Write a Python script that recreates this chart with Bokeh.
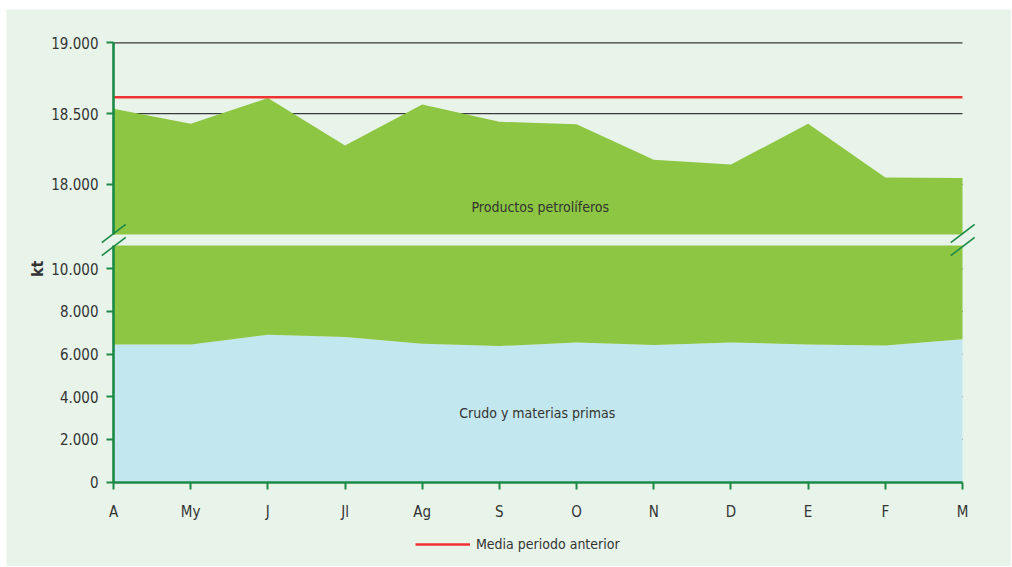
import math
import numpy as np
from bokeh.plotting import figure
from bokeh.models import (Range1d, LinearAxis, FixedTicker, Label, Legend,
                          LegendItem, Arrow)
from bokeh.embed import file_html
from bokeh.resources import INLINE

# ---------------- data (kt) ----------------
months = ["A", "My", "J", "Jl", "Ag", "S", "O", "N", "D", "E", "F", "M"]
crudo_materias_primas = [6453, 6453, 6907, 6795, 6485, 6373, 6546, 6420, 6546, 6453, 6406, 6701]
productos_petroliferos = [12081, 11975, 11703, 11480, 12080, 12069, 11880, 11754, 11595, 11975, 11643, 11344]
media_periodo_anterior = 18616
upper_ticks = [18000, 18500, 19000]
lower_ticks = [0, 2000, 4000, 6000, 8000, 10000]

# ---------------- styling / layout constants ----------------
FONT = "DejaVu Sans Condensed, Roboto, sans-serif"
BG = "#E8F4EA"
GREEN_AREA = "#8DC642"
BLUE_AREA = "#C2E7EF"
RED = "#EE3333"
AXIS_GREEN = "#1B8A46"
GRID = "#3a3a3a"
TEXT = "#333333"
UPPER_BREAK = 17647   # bottom of the upper (cut) panel
LOWER_BREAK = 11092   # top of the lower panel


def fmt(v):
    return f"{v:,}".replace(",", ".")


x = list(range(len(months)))
crude = np.array(crudo_materias_primas, dtype=float)
total = crude + np.array(productos_petroliferos, dtype=float)

p = figure(width=1005, height=557, output_backend="svg", toolbar_location=None,
           x_range=Range1d(-1.3863, 11.6349), y_range=Range1d(-3963, 22161),
           x_axis_type=None, y_axis_type=None,
           min_border=0, min_border_left=0, min_border_right=0,
           min_border_top=0, min_border_bottom=0,
           background_fill_color=BG, border_fill_color=BG, outline_line_color=None)
p.margin = (9, 0, 0, 6)
p.extra_y_ranges = {"upper": Range1d(15304, 19235)}

# horizontal grid lines (under the areas), spanning the months only
p.segment(x0=x[0], x1=x[-1], y0=upper_ticks, y1=upper_ticks, line_color=GRID,
          line_width=1.2, y_range_name="upper")
p.segment(x0=x[0], x1=x[-1], y0=lower_ticks, y1=lower_ticks, line_color=GRID,
          line_width=1.2)

# lower panel areas
p.varea(x=x, y1=0, y2=crude, fill_color=BLUE_AREA)
p.varea(x=x, y1=crude, y2=np.minimum(total, LOWER_BREAK), fill_color=GREEN_AREA)
# upper panel area
p.varea(x=x, y1=np.maximum(crude, UPPER_BREAK), y2=total, fill_color=GREEN_AREA,
        y_range_name="upper")

# previous-period mean
red = p.line(x=x, y=[media_periodo_anterior] * len(x), line_color=RED, line_width=2.6,
             y_range_name="upper")


# axes
def style_axis(ax):
    ax.axis_line_color = AXIS_GREEN
    ax.axis_line_width = 2.6
    ax.major_tick_line_color = AXIS_GREEN
    ax.major_tick_line_width = 2
    ax.major_tick_out = 7
    ax.major_tick_in = 0
    ax.minor_tick_line_color = None
    ax.major_label_text_font = FONT
    ax.major_label_text_font_size = "15px"
    ax.major_label_text_color = TEXT


ax_low = LinearAxis(ticker=FixedTicker(ticks=lower_ticks), bounds=(0, LOWER_BREAK), fixed_location=0,
                    major_label_overrides={t: fmt(t) for t in lower_ticks})
style_axis(ax_low)
ax_low.major_label_standoff = 8
p.add_layout(ax_low, "left")

ax_up = LinearAxis(ticker=FixedTicker(ticks=upper_ticks), y_range_name="upper",
                   bounds=(UPPER_BREAK, upper_ticks[-1]), fixed_location=0,
                   major_label_overrides={t: fmt(t) for t in upper_ticks})
style_axis(ax_up)
ax_up.major_label_standoff = 8
p.add_layout(ax_up, "left")

ax_x = LinearAxis(ticker=FixedTicker(ticks=x), bounds=(x[0], x[-1]), fixed_location=0,
                  major_label_overrides={i: m for i, m in enumerate(months)})
style_axis(ax_x)
ax_x.major_label_standoff = 14
p.add_layout(ax_x, "below")

# axis-break marks
for xc in (x[0], x[-1]):
    for yc in (17654, 17562):
        p.add_layout(Arrow(end=None, x_start=xc - 0.152, y_start=yc - 64,
                           x_end=xc + 0.158, y_end=yc + 64, y_range_name="upper",
                           line_color=AXIS_GREEN, line_width=1.6))

# area labels
p.add_layout(Label(x=5.53, y=17838, y_range_name="upper", text="Productos petrolíferos",
                   text_align="center", text_baseline="middle", text_font=FONT,
                   text_font_size="14px", text_color=TEXT))
p.add_layout(Label(x=5.49, y=3213, text="Crudo y materias primas",
                   text_align="center", text_baseline="middle", text_font=FONT,
                   text_font_size="14px", text_color=TEXT))

# y-axis title
p.add_layout(Label(x=-0.99, y=10000, text="kt", angle=math.pi / 2,
                   text_align="center", text_baseline="middle", text_font=FONT,
                   text_font_size="16px", text_font_style="bold", text_color=TEXT))

# legend
legend = Legend(items=[LegendItem(label="Media periodo anterior", renderers=[red])],
                location=(409, 12), orientation="horizontal",
                glyph_width=55, glyph_height=20, label_standoff=6, padding=0, margin=0,
                border_line_color=None, background_fill_alpha=0,
                label_text_font=FONT, label_text_font_size="14px", label_text_color=TEXT)
p.add_layout(legend)

open("out.html", "w").write(file_html(p, INLINE))
